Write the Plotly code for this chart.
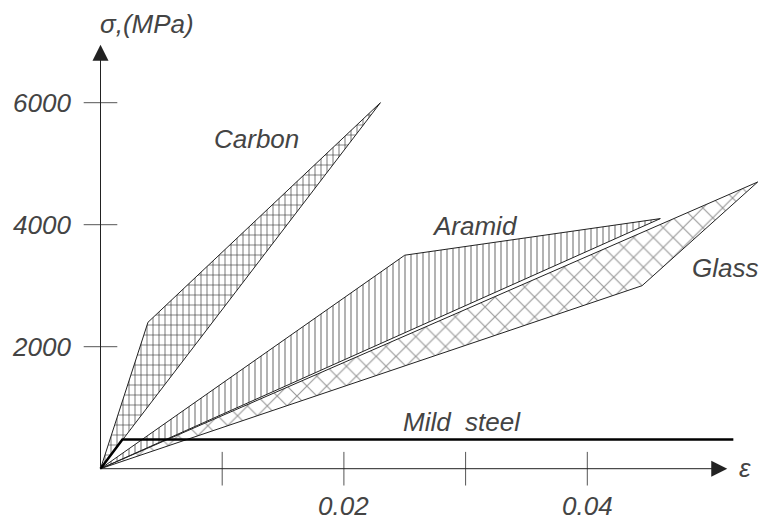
import plotly.graph_objects as go

# ---- data (strain, stress MPa) ----
carbon_strain = [0, 0.0039, 0.023, 0]
carbon_stress = [0, 2400, 6000, 0]
aramid_strain = [0, 0.025, 0.046, 0]
aramid_stress = [0, 3500, 4100, 0]
glass_strain = [0, 0.054, 0.0445, 0]
glass_stress = [0, 4700, 3000, 0]
steel_strain = [0, 0.0018, 0.052]
steel_stress = [0, 480, 480]

x_ticks = [0.01, 0.02, 0.03, 0.04]
x_tick_labels = ["", "0.02", "", "0.04"]
y_ticks = [2000, 4000, 6000]
y_tick_labels = ["2000", "4000", "6000"]

x_axis_end = 0.0515
y_axis_end = 6950

FONT = dict(family="Liberation Sans", size=26, color="#444", style="italic")

PX_PER_X = 12170.0
PX_PER_Y = 0.061
X0_PX, Y0_PX = 100.5, 468.7
W, H = 761, 521

fig = go.Figure()

def poly(xs, ys, shape, size, sol, name, outline=True):
    fig.add_trace(go.Scatter(
        x=xs, y=ys, mode="lines", fill="toself", name=name,
        line=dict(color="#222", width=1 if outline else 0),
        fillcolor="rgba(0,0,0,0)",
        fillpattern=dict(shape=shape, size=size, solidity=sol,
                         fgcolor="#333", bgcolor="rgba(0,0,0,0)"),
        hoverinfo="skip"))

poly(carbon_strain, carbon_stress, "|", 6, 0.22, "Carbon")
poly(carbon_strain, carbon_stress, "-", 10, 0.12, "Carbon", outline=False)
poly(aramid_strain, aramid_stress, "|", 6, 0.25, "Aramid")
poly(glass_strain, glass_stress, "x", 14, 0.16, "Glass")

fig.add_trace(go.Scatter(x=steel_strain, y=steel_stress, mode="lines",
                         line=dict(color="black", width=2.5), hoverinfo="skip"))

# tick marks crossing the axes
fig.add_trace(go.Scatter(x=x_ticks, y=[0] * len(x_ticks), mode="markers",
                         marker=dict(symbol="line-ns", size=24,
                                     line=dict(color="#555", width=1)),
                         hoverinfo="skip"))
fig.add_trace(go.Scatter(x=[0] * len(y_ticks), y=y_ticks, mode="markers",
                         marker=dict(symbol="line-ew", size=24,
                                     line=dict(color="#555", width=1)),
                         hoverinfo="skip"))

ann = []
# axes with arrows
for xe, ye in [(x_axis_end, 0), (0, y_axis_end)]:
    ann.append(dict(x=xe, y=ye, ax=0, ay=0, xref="x", yref="y", axref="x", ayref="y",
                    showarrow=True, arrowhead=2, arrowsize=3.2, arrowwidth=1,
                    arrowcolor="#222", text=""))

for v, t in zip(y_ticks, y_tick_labels):
    ann.append(dict(x=0, y=v, xref="x", yref="y", text=t, showarrow=False,
                    xanchor="right", yanchor="middle", xshift=-28, font=FONT))
for v, t in zip(x_ticks, x_tick_labels):
    if t:
        ann.append(dict(x=v, y=0, xref="x", yref="y", text=t, showarrow=False,
                        xanchor="center", yanchor="middle", yshift=-37, font=FONT))

labels = [("Carbon", 0.01278, 5405), ("Aramid", 0.03077, 3979), ("Glass", 0.05131, 3290),
          ("Mild  steel", 0.0297, 766), ("σ,(MPa)", 0.00382, 7290), ("ε", 0.05296, 11)]
for t, x, y in labels:
    ann.append(dict(x=x, y=y, xref="x", yref="y", text=t, showarrow=False,
                    xanchor="center", yanchor="middle", font=FONT))

fig.update_layout(
    width=W, height=H,
    margin=dict(l=0, r=0, t=0, b=0),
    paper_bgcolor="white", plot_bgcolor="white",
    showlegend=False,
    xaxis=dict(range=[(0 - X0_PX) / PX_PER_X, (W - X0_PX) / PX_PER_X],
               visible=False, fixedrange=True),
    yaxis=dict(range=[(Y0_PX - H) / PX_PER_Y, Y0_PX / PX_PER_Y],
               visible=False, fixedrange=True),
    annotations=ann,
)

fig.write_html("out.html",
               config={"displayModeBar": False, "staticPlot": True},
               post_script="document.body.style.margin='0';document.body.style.overflow='hidden';")
